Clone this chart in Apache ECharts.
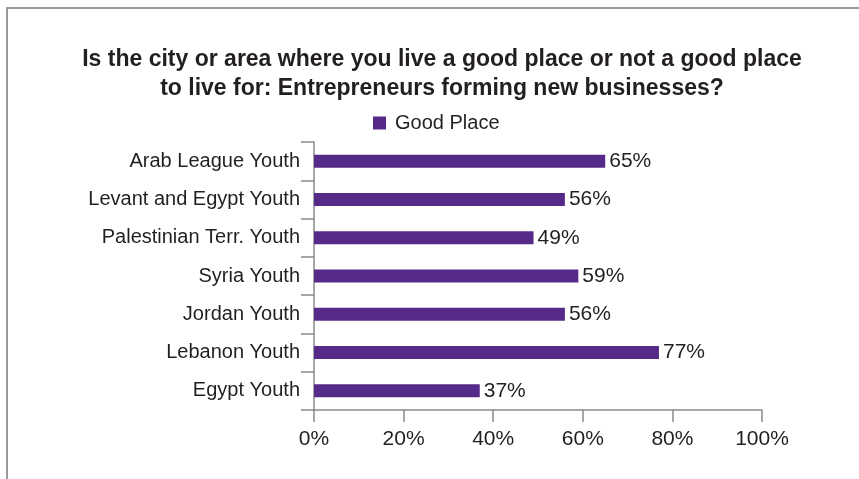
<!DOCTYPE html>
<html>
<head>
<meta charset="utf-8">
<script src="https://cdn.jsdelivr.net/npm/echarts@6/dist/echarts.min.js"></script>
<style>
html,body{margin:0;padding:0;background:#fff;}
#frame{position:absolute;left:6px;top:7px;width:853px;height:472px;border-left:2px solid #9a9a9a;border-top:2px solid #9a9a9a;box-sizing:border-box;}
#chart{position:absolute;left:0;top:0;width:859px;height:479px;}
</style>
</head>
<body>
<div id="frame"></div>
<div id="chart"></div>
<script>
const titleText = "Is the city or area where you live a good place or not a good place\nto live for: Entrepreneurs forming new businesses?";
const seriesName = "Good Place";
const categories = ["Arab League Youth", "Levant and Egypt Youth", "Palestinian Terr. Youth", "Syria Youth", "Jordan Youth", "Lebanon Youth", "Egypt Youth"];
const values = [65, 56, 49, 59, 56, 77, 37];
const xTicks = [0, 20, 40, 60, 80, 100];

const chart = echarts.init(document.getElementById('chart'), null, {renderer: 'canvas'});
const font = 'Liberation Sans, Arial, Helvetica, sans-serif';
chart.setOption({
  animation: false,
  textStyle: {fontFamily: font},
  title: {
    text: titleText,
    left: 437, top: 40, textAlign: 'center',
    textStyle: {fontFamily: font, fontSize: 23, fontWeight: 'bold', color: '#231f20', lineHeight: 29}
  },
  legend: {
    data: [seriesName],
    left: 368, top: 108,
    itemWidth: 13, itemHeight: 13, itemGap: 8,
    icon: 'rect',
    textStyle: {fontFamily: font, fontSize: 20, color: '#231f20', padding: [0,0,0,4]}
  },
  grid: {left: 314, right: 97, top: 142, bottom: 69, containLabel: false},
  xAxis: {
    type: 'value', min: 0, max: 100, interval: 20,
    axisLine: {show: true, lineStyle: {color: '#8a8a8a', width: 1.5}},
    axisTick: {show: true, length: 12, lineStyle: {color: '#8a8a8a', width: 1.5}},
    splitLine: {show: false},
    axisLabel: {formatter: v => xTicks.includes(v) ? v + '%' : '', fontFamily: font, fontSize: 21, color: '#231f20', margin: 19}
  },
  yAxis: {
    type: 'category', data: categories, inverse: true,
    axisLine: {show: true, lineStyle: {color: '#8a8a8a', width: 1.5}},
    axisTick: {show: true, length: 13, lineStyle: {color: '#8a8a8a', width: 1.5}},
    axisLabel: {fontFamily: font, fontSize: 20, color: '#231f20', margin: 14}
  },
  series: [{
    name: seriesName, type: 'bar', data: values, barWidth: 13,
    itemStyle: {color: '#552a88'},
    label: {show: true, position: 'right', distance: 4, formatter: p => p.value + '%', fontFamily: font, fontSize: 21, color: '#231f20'}
  }]
});
</script>
</body>
</html>
